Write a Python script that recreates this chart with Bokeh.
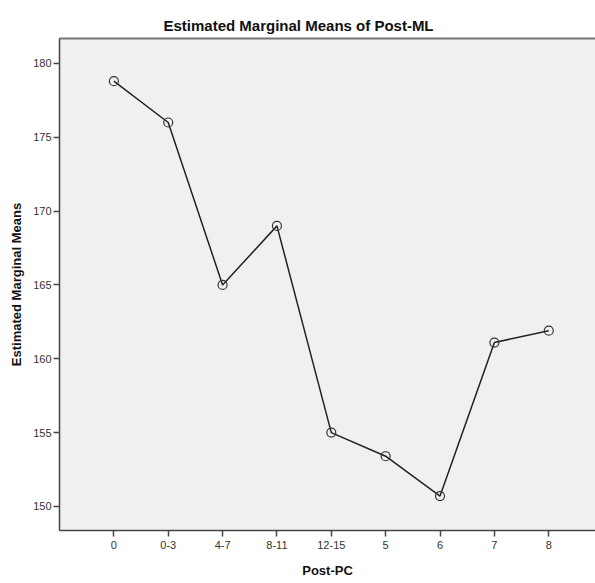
from bokeh.plotting import figure
from bokeh.models import Range1d, FixedTicker, LinearAxis
from bokeh.embed import file_html
from bokeh.resources import INLINE

categories = ["0", "0-3", "4-7", "8-11", "12-15", "5", "6", "7", "8"]
means = [178.8, 176.0, 165.0, 169.0, 155.0, 153.4, 150.7, 161.1, 161.9]
y_ticks = [150, 155, 160, 165, 170, 175, 180]

xs = list(range(len(categories)))

p = figure(width=595, height=583, output_backend="svg", toolbar_location=None,
           x_range=Range1d(-1, 8.86), y_range=Range1d(148.37, 181.69),
           min_border_left=59, min_border_right=0, min_border_top=38, min_border_bottom=53,
           title="Estimated Marginal Means of Post-ML")

p.background_fill_color = "#f0f0f0"
p.border_fill_color = "white"
p.outline_line_color = None
p.grid.visible = False

xaxis = p.below[0]
yaxis = p.left[0]

top_axis = LinearAxis(ticker=FixedTicker(ticks=[]), axis_line_color="#777777",
                      axis_line_width=2, major_tick_line_color=None,
                      minor_tick_line_color=None, major_label_standoff=0,
                      major_tick_out=0, major_tick_in=0)
p.add_layout(top_axis, "above")

p.title.align = "left"
p.title.offset = 104
p.title.text_font = "Liberation Sans"
p.title.text_font_size = "15px"
p.title.text_font_style = "bold"
p.title.text_color = "#111111"

p.line(xs, means, line_color="#222222", line_width=1.5)
p.scatter(xs, means, marker="circle", size=9, fill_color=None,
          line_color="#333333", line_width=1.2)

xaxis.ticker = FixedTicker(ticks=xs)
xaxis.major_label_overrides = {i: c for i, c in enumerate(categories)}
yaxis.ticker = FixedTicker(ticks=y_ticks)

for ax in (xaxis, yaxis):
    ax.axis_line_color = "#444444"
    ax.axis_line_width = 1.5
    ax.major_tick_line_color = "#444444"
    ax.major_tick_line_width = 1.5
    ax.major_tick_out = 6
    ax.major_tick_in = 0
    ax.minor_tick_line_color = None
    ax.major_label_text_font = "Liberation Sans"
    ax.major_label_text_font_size = "11px"
    ax.major_label_text_color = "#333333"
    ax.axis_label_text_font = "Liberation Sans"
    ax.axis_label_text_font_size = "13px"
    ax.axis_label_text_font_style = "bold"
    ax.axis_label_text_color = "#111111"

xaxis.axis_label = "Post-PC"
yaxis.axis_label = "Estimated Marginal Means"
xaxis.major_label_standoff = 4
yaxis.major_label_standoff = 2
xaxis.axis_label_standoff = 11
yaxis.axis_label_standoff = 6

open("out.html", "w").write(file_html(p, INLINE))
